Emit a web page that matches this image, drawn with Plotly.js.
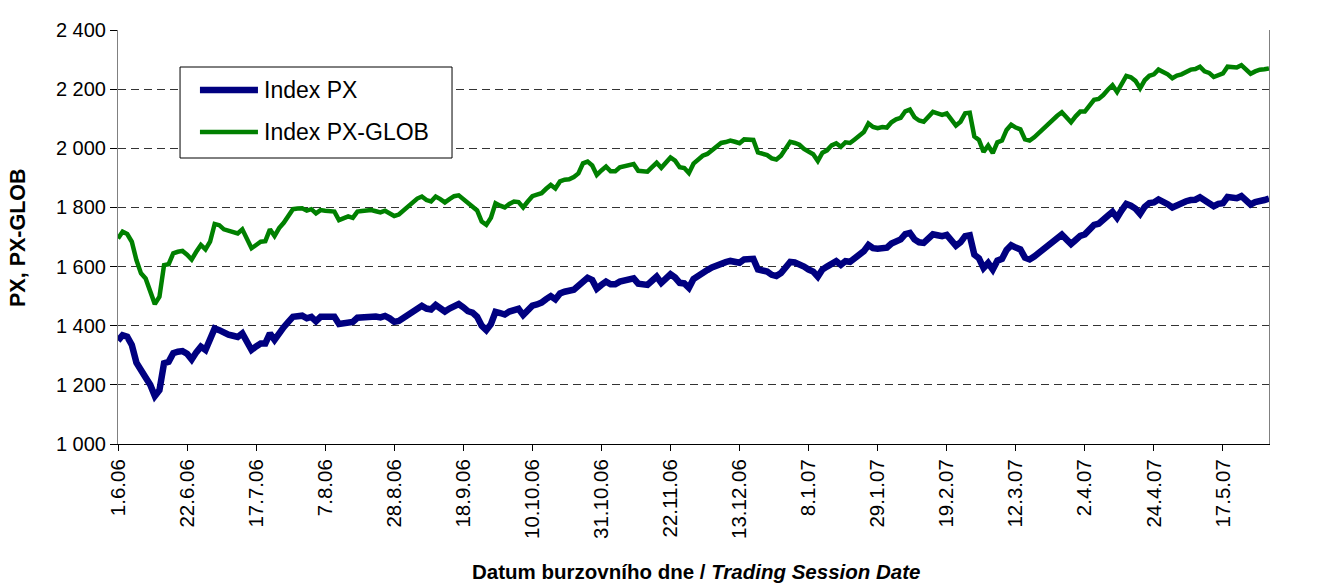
<!DOCTYPE html>
<html>
<head>
<meta charset="utf-8">
<script src="https://cdn.plot.ly/plotly-3.0.1.min.js"></script>
<style>
  html, body { margin: 0; padding: 0; background: #fff; }
  #chart { width: 1326px; height: 583px; }
</style>
</head>
<body>
<div id="chart"></div>
<script>
// Trading sessions from 1.6.06 (session 0) to 31.5.07 (session 250)
const tickSessions = [0, 15, 30, 45, 60, 75, 90, 105, 120, 135, 150, 165, 180, 195, 210, 225, 240];
const tickLabels = ["1.6.06", "22.6.06", "17.7.06", "7.8.06", "28.8.06", "18.9.06", "10.10.06", "31.10.06",
  "22.11.06", "13.12.06", "8.1.07", "29.1.07", "19.2.07", "12.3.07", "2.4.07", "24.4.07", "17.5.07"];

const seriesNames = ["Index PX", "Index PX-GLOB"];

const indexPX = [
  1350,1368,1363,1335,1275,1245,1225,1200,1162,1182,
  1273,1278,1307,1312,1314,1305,1286,1310,1329,1318,
  1350,1391,1385,1375,1370,1366,1362,1374,1345,1318,
  1330,1340,1340,1374,1352,1378,1395,1413,1430,1432,
  1434,1425,1430,1415,1430,1430,1430,1430,1406,1409,
  1412,1413,1427,1429,1431,1434,1431,1428,1433,1425,
  1413,1416,1426,1440,1450,1462,1467,1458,1455,1470,
  1460,1448,1458,1468,1473,1462,1449,1444,1430,1400,
  1385,1405,1447,1443,1438,1448,1453,1457,1436,1452,
  1468,1472,1478,1490,1500,1489,1509,1515,1516,1522,
  1535,1550,1562,1555,1525,1538,1549,1540,1540,1549,
  1553,1556,1560,1542,1539,1538,1552,1566,1545,1560,
  1574,1563,1545,1543,1528,1558,1570,1582,1588,1597,
  1605,1613,1615,1619,1618,1613,1624,1625,1626,1590,
  1586,1583,1572,1568,1578,1598,1616,1614,1609,1600,
  1590,1583,1566,1590,1600,1612,1618,1606,1618,1616,
  1628,1641,1652,1673,1662,1660,1664,1664,1678,1688,
  1692,1710,1714,1692,1682,1680,1695,1709,1706,1703,
  1707,1688,1670,1682,1703,1706,1640,1628,1595,1612,
  1590,1620,1626,1656,1672,1664,1658,1630,1624,1634,
  1646,1658,1670,1681,1697,1708,1692,1676,1690,1704,
  1709,1727,1741,1745,1756,1772,1785,1765,1790,1812,
  1806,1796,1778,1802,1815,1817,1827,1820,1811,1800,
  1808,1811,1821,1825,1826,1834,1822,1816,1804,1812,
  1814,1835,1833,1831,1838,1825,1810,1818,1824,1825,
  1830
];

const indexPXGLOB = [
  1695,1718,1710,1684,1622,1577,1560,1521,1473,1498,
  1605,1608,1645,1650,1653,1640,1624,1650,1673,1658,
  1684,1744,1740,1726,1720,1715,1712,1726,1694,1662,
  1673,1684,1686,1726,1703,1730,1748,1772,1794,1796,
  1797,1789,1794,1780,1791,1789,1788,1786,1757,1762,
  1770,1765,1786,1788,1790,1791,1787,1783,1789,1782,
  1771,1776,1790,1806,1818,1830,1837,1825,1820,1837,
  1828,1817,1828,1838,1841,1828,1813,1804,1790,1752,
  1741,1765,1814,1806,1800,1812,1820,1818,1800,1820,
  1838,1843,1848,1863,1876,1864,1888,1894,1895,1903,
  1915,1949,1955,1942,1910,1925,1938,1922,1922,1936,
  1940,1943,1947,1924,1922,1921,1936,1951,1934,1952,
  1969,1958,1936,1933,1916,1948,1962,1975,1981,1995,
  2004,2018,2021,2026,2022,2017,2030,2029,2028,1986,
  1981,1977,1966,1962,1975,2000,2022,2018,2012,1998,
  1988,1980,1957,1985,1993,2010,2017,2005,2020,2018,
  2030,2041,2055,2084,2072,2068,2072,2070,2088,2098,
  2103,2125,2131,2105,2094,2090,2106,2123,2118,2113,
  2118,2097,2077,2090,2118,2120,2040,2028,1988,2009,
  1984,2020,2026,2062,2080,2070,2064,2030,2026,2037,
  2052,2068,2082,2094,2110,2122,2105,2088,2108,2124,
  2124,2143,2164,2167,2180,2198,2213,2190,2215,2245,
  2240,2228,2203,2230,2245,2250,2266,2258,2250,2237,
  2246,2250,2260,2266,2268,2276,2260,2255,2241,2248,
  2253,2276,2275,2273,2281,2265,2252,2260,2266,2267,
  2270
];

const sessions = indexPX.map((_, i) => i);

const colorPX = '#000080';
const colorGLOB = '#008000';

const traces = [
  {
    x: sessions, y: indexPX, type: 'scatter', mode: 'lines', name: seriesNames[0],
    line: { color: colorPX, width: 6.5 }, showlegend: false
  },
  {
    x: sessions, y: indexPXGLOB, type: 'scatter', mode: 'lines', name: seriesNames[1],
    line: { color: colorGLOB, width: 4.5 }, showlegend: false
  }
];

const font = 'Liberation Sans, Arial, sans-serif';

// Legend box drawn in paper coordinates (plot area fractions)
const shapes = [
  { type: 'rect', xref: 'paper', yref: 'paper', x0: 0.0539, x1: 0.2902, y0: 0.6908, y1: 0.9106,
    line: { color: '#000', width: 1 }, fillcolor: '#fff', layer: 'above' },
  { type: 'line', xref: 'paper', yref: 'paper', x0: 0.0712, x1: 0.1216, y0: 0.8551, y1: 0.8551,
    line: { color: colorPX, width: 6.5 }, layer: 'above' },
  { type: 'line', xref: 'paper', yref: 'paper', x0: 0.0712, x1: 0.1216, y0: 0.7536, y1: 0.7536,
    line: { color: colorGLOB, width: 4.5 }, layer: 'above' }
];

const annotations = [
  { xref: 'paper', yref: 'paper', x: 0.1251, y: 0.8551, xanchor: 'left', yanchor: 'middle',
    text: seriesNames[0], showarrow: false, font: { family: font, size: 23, color: '#000' } },
  { xref: 'paper', yref: 'paper', x: 0.1251, y: 0.7536, xanchor: 'left', yanchor: 'middle',
    text: seriesNames[1], showarrow: false, font: { family: font, size: 23, color: '#000' } },
  { xref: 'paper', yref: 'paper', x: 0.502, y: -0.309, xanchor: 'center', yanchor: 'middle',
    text: '<b>Datum burzovního dne / <i>Trading Session Date</i></b>', showarrow: false,
    font: { family: font, size: 20.5, color: '#000' } },
  { xref: 'paper', yref: 'paper', x: -0.0869, y: 0.5, xanchor: 'center', yanchor: 'middle',
    textangle: -90, text: '<b>PX, PX-GLOB</b>', showarrow: false,
    font: { family: font, size: 21.5, color: '#000' } }
];

const layout = {
  width: 1326, height: 583,
  margin: { l: 118, r: 57, t: 30, b: 139 },
  paper_bgcolor: '#fff', plot_bgcolor: '#fff',
  separators: ', ',
  font: { family: font, color: '#000', size: 20 },
  showlegend: false,
  shapes: shapes,
  annotations: annotations,
  xaxis: {
    range: [0, 250],
    tickmode: 'array', tickvals: tickSessions, ticktext: tickLabels,
    tickangle: -90,
    ticks: 'outside', ticklen: 6, tickcolor: '#000',
    showline: true, linecolor: '#000', linewidth: 1,
    showgrid: false, zeroline: false,
    tickfont: { family: font, size: 20.5, color: '#000' }
  },
  yaxis: {
    range: [1000, 2400], dtick: 200, tickformat: ',d',
    ticks: 'outside', ticklen: 7, tickcolor: '#000',
    showline: true, linecolor: '#808080', linewidth: 1, mirror: true,
    showgrid: true, gridcolor: '#333', gridwidth: 1, griddash: '8px,5px',
    zeroline: false,
    tickfont: { family: font, size: 20, color: '#000' }
  }
};

Plotly.newPlot('chart', traces, layout, { displayModeBar: false, staticPlot: true });
</script>
</body>
</html>
